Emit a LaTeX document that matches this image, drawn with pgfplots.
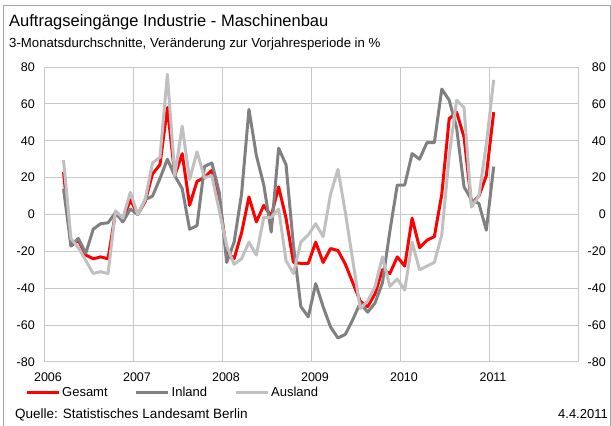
\documentclass[border=0pt]{standalone}
\usepackage{pgfplots}
\pgfplotsset{compat=1.18}
\usepackage{pgfplotstable}
\usepackage{fontspec}
\setmainfont{Liberation Sans}
\definecolor{gesamt}{RGB}{255,0,0}
\definecolor{inland}{RGB}{128,128,128}
\definecolor{ausland}{RGB}{192,192,192}
\definecolor{gridc}{RGB}{200,200,200}
\definecolor{framec}{RGB}{165,165,165}

% x = months since Jan 2006 (point at middle of month)
\pgfplotstableread{
m G I A
2.5 23 14 29.5
3.5 -17 -17 -13
4.5 -14 -13 -18
5.5 -22 -21 -25
6.5 -24 -8 -32
7.5 -23 -5 -31
8.5 -24 -4.5 -32
9.5 1 1 2
10.5 -3 -4 -2
11.5 8 3 12
12.5 0 0 0
13.5 7 8 8
14.5 22 10 28
15.5 27 19.5 31
16.5 58 30 76
17.5 21 21 21
18.5 33 14 48
19.5 5 -8 19
20.5 18 -6 34
21.5 20 26 20
22.5 24 28 21
23.5 8 12 2
24.5 -20 -26 -17
25.5 -24 -15 -27
26.5 -10 11 -24
27.5 9.5 57 -15
28.5 -4 32 -22
29.5 5 16 -1.5
30.5 -1 -9.5 -1.5
31.5 15 36 3
32.5 -2 27 -25
33.5 -26 -17 -32
34.5 -26.5 -50 -15
35.5 -26.5 -55.5 -11
36.5 -15 -37.5 -5
37.5 -26 -50 -12
38.5 -18.5 -61 11
39.5 -19.5 -67 24.5
40.5 -27 -65 1
41.5 -37 -57 -25
42.5 -47 -48 -51
43.5 -50 -53 -47
44.5 -43 -48 -39
45.5 -30 -37 -23
46.5 -32 -9 -39
47.5 -23 16 -35
48.5 -28 16 -41
49.5 -2 33 -15
50.5 -18 30 -30
51.5 -14 39 -28
52.5 -12 39 -26
53.5 11 68 -11
54.5 52 62 32
55.5 55.5 47 62
56.5 42 15 58
57.5 6 8 4
58.5 10 6 10
59.5 21 -8.5 38
60.5 55.5 26 73
}\data

\begin{document}
\begin{tikzpicture}
\useasboundingbox (0pt,0pt) rectangle (611pt,426pt);
\draw[framec, line width=1pt] (3pt,-5pt) -- (3pt,420pt) -- (610pt,420pt) -- (610pt,-5pt);
\node[anchor=base west, font=\fontsize{16.5}{18}\selectfont, inner sep=0pt] at (9pt,399pt) {Auftragseingänge Industrie - Maschinenbau};
\node[anchor=base west, font=\fontsize{13.2}{15}\selectfont, inner sep=0pt] at (9pt,378pt) {3-Monatsdurchschnitte, Veränderung zur Vorjahresperiode in \%};

\begin{axis}[
  at={(45pt,64pt)}, anchor=south west, scale only axis,
  width=534pt, height=295pt,
  xmin=0, xmax=72, ymin=-80, ymax=80,
  xtick={0,12,...,72}, xticklabels={2006,2007,2008,2009,2010,2011,},
  ytick={-80,-60,...,80}, yticklabels={-80,-60,-40,-20,0,20,40,60,80},
  grid=major, grid style={gridc, line width=1pt},
  axis line style={gridc, line width=1pt},
  major tick length=0pt,
  /pgf/number format/assume math mode=true,
  tick label style={font=\fontsize{12.5}{14}\selectfont},
  yticklabel style={inner xsep=0pt, xshift=-10pt},
  xticklabel style={inner ysep=0pt, yshift=-11pt, xshift=3pt},
  legend style={at={(-0.0375,-0.105)}, anchor=west, draw=none, fill=none, inner sep=0pt,
    font=\fontsize{13}{15}\selectfont,
    /tikz/every even column/.append style={column sep=25pt}},
  legend columns=3,
  legend image code/.code={\draw[#1] (0pt,0pt) -- (32pt,0pt);},
  every axis plot/.append style={line width=3pt, line join=round},
]
\addplot[gesamt] table[x=m, y=G] {\data};
\addplot[inland] table[x=m, y=I] {\data};
\addplot[ausland] table[x=m, y=A] {\data};
\legend{Gesamt, Inland, Ausland}
\end{axis}

\begin{axis}[
  at={(45pt,64pt)}, anchor=south west, scale only axis,
  width=534pt, height=295pt,
  xmin=0, xmax=72, ymin=-80, ymax=80,
  axis x line=none, axis y line*=right,
  axis line style={draw=none},
  ytick={-80,-60,...,80}, yticklabels={-80,-60,-40,-20,0,20,40,60,80},
  major tick length=0pt,
  tick label style={font=\fontsize{12.5}{14}\selectfont},
  yticklabel style={anchor=east, inner xsep=0pt, xshift=27pt},
]
\end{axis}

\node[anchor=base west, font=\fontsize{13.5}{15}\selectfont, inner sep=0pt] at (15pt,7.5pt) {Quelle: Statistisches Landesamt Berlin};
\node[anchor=base east, font=\fontsize{13}{15}\selectfont, inner sep=0pt] at (608pt,7.5pt) {4.4.2011};
\end{tikzpicture}
\end{document}
